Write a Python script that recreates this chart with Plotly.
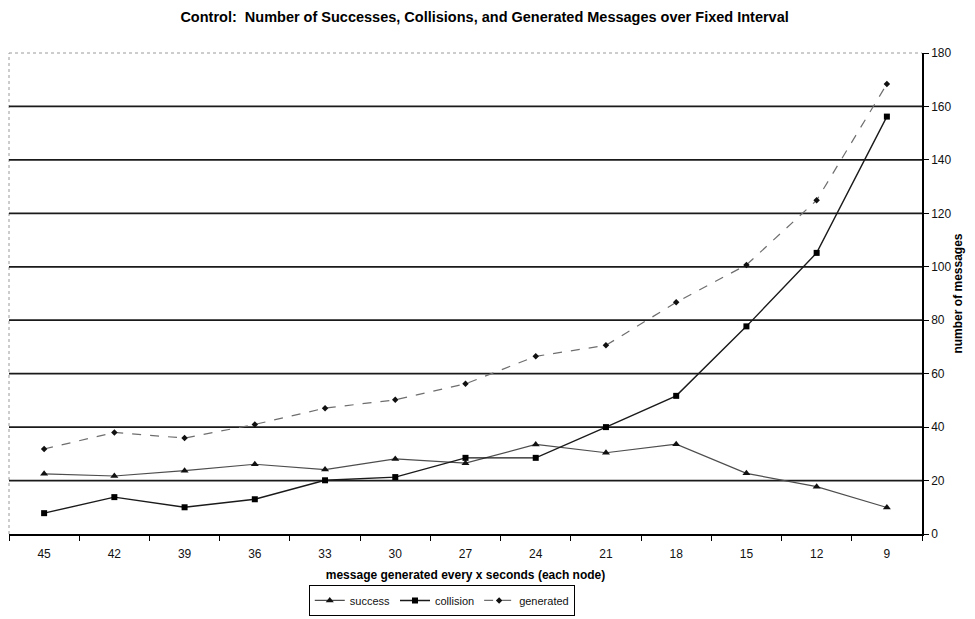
import plotly.graph_objects as go

# Message generation interval (seconds, per node) and the counts observed
intervals = ["45", "42", "39", "36", "33", "30", "27", "24", "21", "18", "15", "12", "9"]
success = [22.5, 21.7, 23.7, 26.1, 24.1, 28.1, 26.5, 33.5, 30.4, 33.6, 22.7, 17.7, 9.9]
collision = [7.8, 13.8, 10.0, 13.0, 20.1, 21.3, 28.5, 28.5, 40.0, 51.7, 77.7, 105.2, 156.2]
generated = [31.8, 38.0, 35.9, 41.0, 47.1, 50.2, 56.2, 66.5, 70.6, 86.7, 100.7, 124.9, 168.4]

y_ticks = [0, 20, 40, 60, 80, 100, 120, 140, 160, 180]
grid_levels = [20, 40, 60, 80, 100, 120, 140, 160]

FONT = "Liberation Sans, Arial, sans-serif"
INK = "#111111"

fig = go.Figure()

fig.add_trace(go.Scatter(
    x=intervals, y=success, name="success", mode="lines+markers",
    line=dict(color="#4d4d4d", width=1.2),
    marker=dict(symbol="triangle-up", size=7, color=INK),
))
fig.add_trace(go.Scatter(
    x=intervals, y=collision, name="collision", mode="lines+markers",
    line=dict(color="#1a1a1a", width=1.4),
    marker=dict(symbol="square", size=6, color="#000000"),
))
fig.add_trace(go.Scatter(
    x=intervals, y=generated, name="generated", mode="lines+markers",
    line=dict(color="#6e6e6e", width=1.2, dash="dash"),
    marker=dict(symbol="diamond", size=5, color=INK),
))

shapes = []
# dotted outline of the plot area (top and left)
shapes.append(dict(type="line", xref="paper", yref="paper", x0=0, x1=1, y0=1, y1=1,
                   line=dict(color="#9a9a9a", width=1, dash="dot"), layer="below"))
shapes.append(dict(type="line", xref="paper", yref="paper", x0=0, x1=0, y0=0, y1=1,
                   line=dict(color="#9a9a9a", width=1, dash="dot"), layer="below"))
# horizontal gridlines
for g in grid_levels:
    shapes.append(dict(type="line", xref="paper", yref="y", x0=0, x1=1, y0=g, y1=g,
                       line=dict(color="#1a1a1a", width=1.7), layer="below"))

fig.update_layout(
    width=975, height=619,
    margin=dict(l=9, r=53, t=53, b=85, autoexpand=False),
    paper_bgcolor="white", plot_bgcolor="white",
    font=dict(family=FONT, size=12, color=INK),
    title=dict(
        text="<b>Control:  Number of Successes, Collisions, and Generated Messages over Fixed Interval</b>",
        x=0.497, xanchor="center", y=0.972, yanchor="middle",
        font=dict(family=FONT, size=14.5, color="#000000"),
    ),
    showlegend=True,
    legend=dict(
        orientation="h", x=0.474, xanchor="center",
        yref="container", y=0.055, yanchor="top",
        bordercolor="#000000", borderwidth=1, bgcolor="white",
        font=dict(family=FONT, size=11, color=INK),
        itemwidth=30, tracegroupgap=0,
    ),
    shapes=shapes,
)

fig.update_xaxes(
    type="category", categoryorder="array", categoryarray=intervals,
    range=[-0.5, len(intervals) - 0.5], automargin=False,
    showline=True, linecolor="#000000", linewidth=1.5,
    ticks="outside", tickson="boundaries", ticklen=5, tickcolor="#000000", tickwidth=1.2,
    ticklabelstandoff=8,
    showgrid=False, zeroline=False,
    tickfont=dict(family=FONT, size=12, color=INK),
    title=dict(text="<b>message generated every x seconds (each node)</b>",
               font=dict(family=FONT, size=12, color="#000000"), standoff=10),
)

fig.update_yaxes(
    side="right", range=[0, 180], tickvals=y_ticks, automargin=False,
    showline=True, linecolor="#000000", linewidth=1.5,
    ticks="outside", ticklen=5, tickcolor="#000000", tickwidth=1.2,
    showgrid=False, zeroline=False,
    tickfont=dict(family=FONT, size=12, color=INK),
    title=dict(text="<b>number of messages</b>", font=dict(family=FONT, size=12, color="#000000"),
               standoff=2),
)

fig.write_html("out.html")
